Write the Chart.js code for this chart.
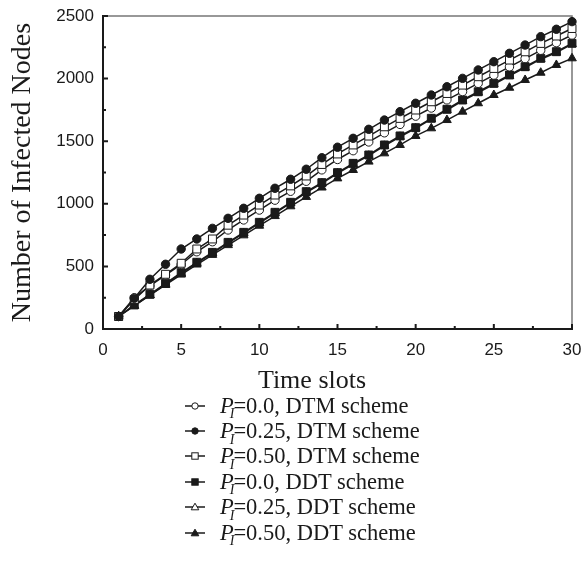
<!DOCTYPE html>
<html>
<head>
<meta charset="utf-8">
<script src="https://cdn.jsdelivr.net/npm/chart.js@4.4.1/dist/chart.umd.min.js"></script>
<style>
  body { margin: 0; background: #fff; }
  #wrap { position: relative; width: 584px; height: 586px; }
  #chart { position: absolute; left: 0; top: 0; }
  #legend { position: absolute; left: 183px; top: 393px; font-family: "Liberation Serif", serif; font-size: 22.5px; color: #1a1a1a; }
  .row { height: 25.4px; display: flex; align-items: center; white-space: nowrap; }
  .row svg { width: 24px; height: 14px; margin-right: 13px; flex: none; }
  .sub { font-size: 0.62em; font-style: italic; position: relative; top: 0.4em; margin-left: -4px; margin-right: -1px; }
</style>
</head>
<body>
<div id="wrap">
  <canvas id="chart" width="584" height="400"></canvas>
  <div id="legend"></div>
</div>
<script>
// x values (time slots)
const timeSlots = [1, 2, 3, 4, 5, 6, 7, 8, 9, 10, 11, 12, 13, 14, 15, 16, 17, 18, 19, 20, 21, 22, 23, 24, 25, 26, 27, 28, 29, 30];

// infected nodes
const dtm00 = [100, 250, 345, 430, 515, 617, 697, 791, 871, 950, 1029, 1100, 1180, 1271, 1354, 1424, 1494, 1567, 1634, 1700, 1765, 1830, 1896, 1962, 2028, 2094, 2160, 2226, 2287, 2348];
const dtm25 = [100, 245, 397, 517, 639, 719, 804, 884, 964, 1044, 1124, 1196, 1276, 1368, 1452, 1523, 1595, 1669, 1736, 1803, 1869, 1935, 2002, 2069, 2135, 2202, 2268, 2335, 2394, 2455];
const dtm50 = [100, 235, 351, 437, 525, 639, 719, 829, 910, 990, 1070, 1143, 1222, 1314, 1398, 1470, 1541, 1615, 1682, 1749, 1815, 1881, 1948, 2015, 2081, 2148, 2214, 2281, 2340, 2400];
const ddt00 = [100, 192, 277, 365, 450, 533, 612, 692, 772, 852, 932, 1012, 1097, 1169, 1249, 1323, 1390, 1470, 1542, 1608, 1683, 1755, 1829, 1895, 1962, 2029, 2095, 2162, 2215, 2282];
const ddt25 = [100, 186, 271, 359, 444, 527, 606, 686, 766, 846, 926, 1006, 1090, 1163, 1243, 1316, 1384, 1463, 1535, 1602, 1676, 1748, 1822, 1888, 1955, 2022, 2088, 2155, 2208, 2275];
const ddt50 = [100, 185, 270, 352, 435, 515, 592, 670, 748, 825, 902, 980, 1055, 1130, 1203, 1270, 1337, 1403, 1470, 1542, 1603, 1669, 1736, 1803, 1869, 1927, 1989, 2047, 2109, 2162];

// legend text parts
const piLabels = ['0.0', '0.25', '0.50', '0.0', '0.25', '0.50'];
const schemeLabels = ['DTM', 'DTM', 'DTM', 'DDT', 'DDT', 'DDT'];

const xTicks = [0, 5, 10, 15, 20, 25, 30];
const yTicks = [0, 500, 1000, 1500, 2000, 2500];

const ink = '#1a1a1a';
const seriesData = [dtm00, dtm25, dtm50, ddt00, ddt25, ddt50];
const markers = [
    { style: 'circle', fill: false, r: 4.2, order: 2 },
    { style: 'circle', fill: true, r: 4.2, order: 0 },
    { style: 'rect', fill: false, r: 5.6, order: 1 },
    { style: 'rect', fill: true, r: 5.6, order: 3 },
    { style: 'triangle', fill: false, r: 5, order: 5 },
    { style: 'triangle', fill: true, r: 5, order: 4 }
];

const datasets = seriesData.map((vals, i) => ({
    label: 'PI=' + piLabels[i] + ', ' + schemeLabels[i] + ' scheme',
    data: vals.map((v, k) => ({ x: timeSlots[k], y: v })),
    borderColor: ink,
    borderWidth: 1.5,
    pointStyle: markers[i].style,
    pointRadius: markers[i].r,
    pointBorderWidth: 1,
    pointBorderColor: ink,
    pointBackgroundColor: markers[i].fill ? ink : '#fff',
    order: markers[i].order,
    clip: false,
    tension: 0
}));

// frame (top/right) + inward tick marks, and x title
const frameTicks = {
    id: 'frameTicks',
    beforeDatasetsDraw(chart) {
        const { ctx, chartArea: a, scales: { x, y } } = chart;
        ctx.save();
        ctx.strokeStyle = '#777';
        ctx.lineWidth = 1.5;
        ctx.beginPath();
        ctx.moveTo(a.left, a.top);
        ctx.lineTo(a.right, a.top);
        ctx.lineTo(a.right, a.bottom);
        ctx.stroke();

        ctx.strokeStyle = ink;
        ctx.lineWidth = 2;
        ctx.beginPath();
        for (let v = 0; v <= 30; v += 2.5) {
            const px = x.getPixelForValue(v);
            const len = v % 5 === 0 ? 5 : 3;
            ctx.moveTo(px, a.bottom);
            ctx.lineTo(px, a.bottom - len);
        }
        for (let v = 0; v <= 2500; v += 250) {
            const py = y.getPixelForValue(v);
            const len = v % 500 === 0 ? 5 : 3;
            ctx.moveTo(a.left, py);
            ctx.lineTo(a.left + len, py);
        }
        ctx.stroke();

        ctx.fillStyle = ink;
        ctx.font = '26px "Liberation Serif"';
        ctx.textAlign = 'center';
        ctx.textBaseline = 'middle';
        ctx.fillText('Time slots', a.left + 209, 381);
        ctx.restore();
    }
};

const tickFont = { family: 'Liberation Sans', size: 17 };

new Chart(document.getElementById('chart'), {
    type: 'line',
    data: { datasets: datasets },
    options: {
        responsive: false,
        animation: false,
        devicePixelRatio: 1,
        layout: { autoPadding: false, padding: { left: 0, top: 16, right: 12, bottom: 0 } },
        plugins: { legend: { display: false }, tooltip: { enabled: false } },
        scales: {
            x: {
                type: 'linear',
                min: 0,
                max: 30,
                afterBuildTicks: (s) => { s.ticks = xTicks.map(v => ({ value: v })); },
                afterFit: (s) => { s.height = 71; s.paddingLeft = 0; s.paddingRight = 0; },
                grid: { display: false, drawTicks: false },
                border: { display: true, color: ink, width: 2 },
                ticks: { font: tickFont, color: ink, padding: 11, maxRotation: 0, callback: (v) => String(v) }
            },
            y: {
                type: 'linear',
                min: 0,
                max: 2500,
                afterBuildTicks: (s) => { s.ticks = yTicks.map(v => ({ value: v })); },
                afterFit: (s) => { s.width = 103; s.paddingTop = 0; s.paddingBottom = 0; },
                grid: { display: false, drawTicks: false },
                border: { display: true, color: ink, width: 2 },
                ticks: { font: tickFont, color: ink, padding: 9, callback: (v) => String(v) },
                title: {
                    display: true,
                    text: 'Number of Infected Nodes',
                    font: { family: 'Liberation Serif', size: 28 },
                    color: ink,
                    padding: { top: 6, bottom: 0 }
                }
            }
        }
    },
    plugins: [frameTicks]
});

// html legend so the subscript I can be shown
function markerSvg(m) {
    let shape;
    const fill = m.fill ? ink : '#fff';
    if (m.style === 'circle') {
        shape = `<circle cx="12" cy="7" r="3.2" fill="${fill}" stroke="${ink}" stroke-width="1"/>`;
    } else if (m.style === 'rect') {
        shape = `<rect x="8.8" y="3.8" width="6.4" height="6.4" fill="${fill}" stroke="${ink}" stroke-width="1"/>`;
    } else {
        shape = `<polygon points="12,3.2 15.8,9.8 8.2,9.8" fill="${fill}" stroke="${ink}" stroke-width="1"/>`;
    }
    return `<svg viewBox="0 0 24 14"><line x1="2" y1="7" x2="22" y2="7" stroke="${ink}" stroke-width="1.5"/>${shape}</svg>`;
}

const legend = document.getElementById('legend');
legend.innerHTML = markers.map((m, i) =>
    `<div class="row">${markerSvg(m)}<span><i>P</i><span class="sub">I</span>=${piLabels[i]}, ${schemeLabels[i]} scheme</span></div>`
).join('');
</script>
</body>
</html>
